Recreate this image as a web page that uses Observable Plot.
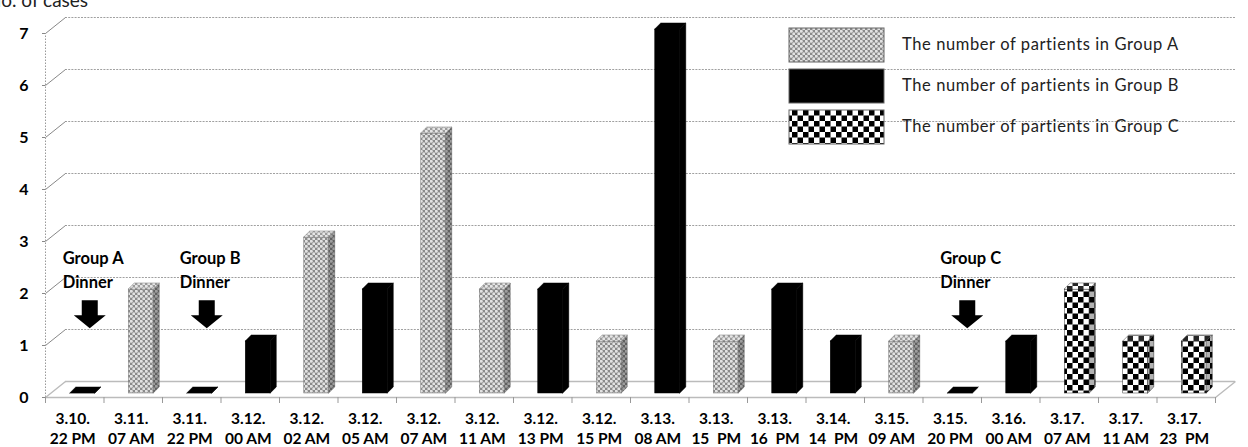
<!DOCTYPE html>
<html>
<head>
<meta charset="utf-8">
<script src="https://cdn.jsdelivr.net/npm/d3@7"></script>
<script src="https://cdn.jsdelivr.net/npm/@observablehq/plot@0.6"></script>
<style>
  html, body { margin: 0; padding: 0; background: #fff; overflow: hidden; }
  svg text { white-space: pre; }
</style>
</head>
<body>
<div id="chart"></div>
<script>
// ---- data ----
const dates  = ["3.10.","3.11.","3.11.","3.12.","3.12.","3.12.","3.12.","3.12.","3.12.","3.12.","3.13.","3.13.","3.13.","3.14.","3.15.","3.15.","3.16.","3.17.","3.17.","3.17."];
const times  = ["22 PM","07 AM","22 PM","00 AM","02 AM","05 AM","07 AM","11 AM","13 PM","15 PM","08 AM","15  PM","16  PM","14  PM","09 AM","20 PM","00 AM","07 AM","11 AM","23  PM"];
const groups = ["B","A","B","B","A","B","A","A","B","A","B","A","B","B","A","B","B","C","C","C"];
const values = [0,2,0,1,3,2,5,2,2,1,7,1,2,1,1,0,1,2,1,1];
const yTicks = [0,1,2,3,4,5,6,7];
const legendKeys = ["A","B","C"];
const legendLabels = ["The number of partients in Group A","The number of partients in Group B","The number of partients in Group C"];
const annotIndex = [0, 2, 15];
const annotText  = ["Group A\nDinner", "Group B\nDinner", "Group C\nDinner"];
const annotTextY = 2.48;
const annotArrowY = 1.6;
const yTitle = "No. of cases";

// ---- layout ----
const W = 1248, H = 447, mL = 45, mR = 33, mT = 33, mB = 50;
const n = values.length;
const pxX = (W - mL - mR) / n, pxY = (H - mT - mB) / 7;
const ux = p => p / pxX, uy = p => p / pxY;
const depthX = ux(20), depthY = uy(16);
const barOffX = ux(8), barOffY = uy(4), barW = ux(25), sideX = ux(6), sideY = uy(6);

const bars = values.map((v, i) => ({
  i, v, g: groups[i],
  x1: i + 0.5 + barOffX - barW / 2,
  x2: i + 0.5 + barOffX + barW / 2,
  y1: barOffY, y2: v + barOffY
}));
const sidePts = bars.flatMap(b => [
  {id: b.i, g: b.g, x: b.x2, y1: b.y1, y2: b.y2},
  {id: b.i, g: b.g, x: b.x2 + sideX, y1: b.y1 + sideY, y2: b.y2 + sideY}
]);
const topPts = bars.flatMap(b => [
  {id: b.i, g: b.g, y: b.y2, x1: b.x1, x2: b.x2},
  {id: b.i, g: b.g, y: b.y2 + sideY, x1: b.x1 + sideX, x2: b.x2 + sideX}
]);
const fills = {A: "url(#pA)", B: "#000", C: "url(#pC)"};
const strokes = {A: "#777", B: "#000", C: "#333"};

const barMarks = ["A","B","C"].flatMap(g => [
  Plot.rect(bars.filter(b => b.g === g), {x1: "x1", x2: "x2", y1: "y1", y2: "y2", fill: fills[g], stroke: strokes[g], strokeWidth: 0.5}),
  Plot.areaY(sidePts.filter(d => d.g === g), {x: "x", y1: "y1", y2: "y2", z: "id", fill: fills[g], stroke: strokes[g], strokeWidth: 0.5}),
  Plot.areaY(sidePts.filter(d => d.g === g), {x: "x", y1: "y1", y2: "y2", z: "id", fill: "#000", fillOpacity: 0.3}),
  Plot.areaX(topPts.filter(d => d.g === g), {y: "y", x1: "x1", x2: "x2", z: "id", fill: fills[g], stroke: strokes[g], strokeWidth: 0.5}),
  Plot.areaX(topPts.filter(d => d.g === g), {y: "y", x1: "x1", x2: "x2", z: "id", fill: "#fff", fillOpacity: g === "B" ? 0 : 0.15})
]);

const arrowSymbol = {
  draw(ctx) {
    ctx.moveTo(-8, -14); ctx.lineTo(8, -14); ctx.lineTo(8, 1); ctx.lineTo(16, 1);
    ctx.lineTo(0, 14); ctx.lineTo(-16, 1); ctx.lineTo(-8, 1); ctx.closePath();
  }
};

const gridVals = yTicks.filter(v => v > 0);
const grid = "#a0a0a0";

const svg = Plot.plot({
  width: W, height: H,
  marginLeft: mL, marginRight: mR, marginTop: mT, marginBottom: mB,
  x: {type: "linear", domain: [0, n], axis: null},
  y: {type: "linear", domain: [0, 7], axis: null},
  style: {fontFamily: "Lato, 'Open Sans', sans-serif", background: "#fff", color: "#000", overflow: "visible"},
  marks: [
    // back-wall gridlines
    Plot.ruleY(gridVals, {y: d => d + depthY, x1: depthX, x2: n + depthX, stroke: grid, strokeDasharray: "2,1.2", strokeWidth: 1}),
    // side-wall diagonals
    Plot.link(gridVals, {x1: 0, y1: d => d, x2: depthX, y2: d => d + depthY, stroke: "#888", strokeWidth: 1}),
    // vertical axis (dotted)
    Plot.ruleX([0], {y1: 0, y2: 7, stroke: "#999", strokeDasharray: "1.5,1.5"}),
    // floor
    Plot.ruleY([0], {y: d => d + depthY, x1: depthX, x2: n + depthX, stroke: "#bbb", strokeWidth: 1.5}),
    Plot.ruleY([0], {x1: 0, x2: n, stroke: "#bbb", strokeWidth: 1.5}),
    Plot.link([0, n], {x1: d => d, y1: 0, x2: d => d + depthX, y2: depthY, stroke: "#bbb", strokeWidth: 1.5}),
    // axes
    Plot.axisY({ticks: yTicks, tickFormat: d3.format("d"), tickSize: 3, tickPadding: 14, fontSize: 16, fontWeight: "bold", stroke: "#888"}),
    Plot.axisX({ticks: d3.range(0, n + 1), tickSize: 6, tickFormat: () => "", stroke: "#999"}),
    Plot.text(bars, {x: d => d.i + 0.5, y: 0, text: d => dates[d.i] + "\n" + times[d.i], dy: 30, dx: -2, lineHeight: 1.3, fontSize: 15.5, fontWeight: "bold"}),
    // bars
    ...barMarks,
    // annotations
    Plot.text(annotIndex, {x: d => d + 0.5, y: annotTextY, text: (d, i) => annotText[i], dx: -12, textAnchor: "start", lineHeight: 1.45, fontSize: 16.5, fontWeight: "bold", letterSpacing: 0.4}),
    Plot.dot(annotIndex, {x: d => d + 0.5, y: annotArrowY, dx: 15, symbol: arrowSymbol, fill: "#000", stroke: "none", r: 10})
  ]
});

const s = d3.select(svg);
const defs = s.insert("defs", ":first-child");
const pA = defs.append("pattern").attr("id", "pA").attr("patternUnits", "userSpaceOnUse").attr("width", 5).attr("height", 5);
pA.append("rect").attr("width", 5).attr("height", 5).attr("fill", "#8a8a8a");
pA.append("circle").attr("cx", 1.25).attr("cy", 1.25).attr("r", 1.5).attr("fill", "#e2e2e2");
pA.append("circle").attr("cx", 3.75).attr("cy", 3.75).attr("r", 1.5).attr("fill", "#e2e2e2");
const pC = defs.append("pattern").attr("id", "pC").attr("patternUnits", "userSpaceOnUse").attr("width", 11).attr("height", 11);
pC.append("rect").attr("width", 11).attr("height", 11).attr("fill", "#fff");
pC.append("rect").attr("width", 5.5).attr("height", 5.5).attr("fill", "#000");
pC.append("rect").attr("x", 5.5).attr("y", 5.5).attr("width", 5.5).attr("height", 5.5).attr("fill", "#000");

// legend
const lg = s.append("g").attr("class", "legend").attr("text-anchor", "start");
legendKeys.forEach((k, i) => {
  const y0 = 28 + i * 41;
  lg.append("rect").attr("x", 789).attr("y", y0).attr("width", 95).attr("height", 34)
    .attr("fill", fills[k]).attr("stroke", "#666").attr("stroke-width", 1);
  lg.append("text").attr("x", 902).attr("y", y0 + 16).attr("dy", "0.35em")
    .attr("font-size", 16.5).attr("letter-spacing", 0.6).attr("fill", "#222").text(legendLabels[i]);
});
// axis title (clipped at top-left like the original)
s.append("text").attr("text-anchor", "start").attr("x", -13).attr("y", 7)
  .attr("font-size", 19).style("font-size", "19px").attr("fill", "#222").text(yTitle);

document.getElementById("chart").appendChild(svg);
</script>
</body>
</html>
